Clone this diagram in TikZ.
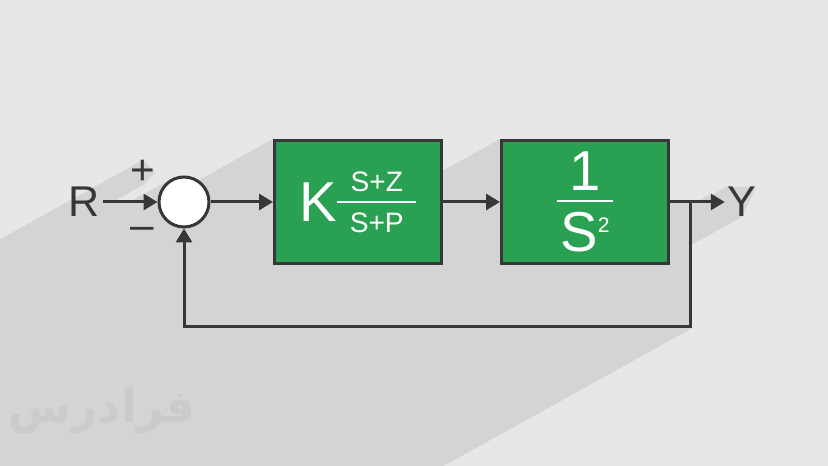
\documentclass[tikz,border=0pt]{standalone}
\usepackage{fontspec}
\setmainfont{Liberation Sans}
\newfontfamily\arabicfont[Script=Arabic]{DejaVu Sans}
\TeXXeTstate=1
\usepackage{tikz}
\usetikzlibrary{arrows.meta,positioning,calc,backgrounds}
\definecolor{bgc}{RGB}{230,231,233}
\definecolor{shd}{RGB}{212,212,212}
\definecolor{blkg}{RGB}{42,161,82}
\definecolor{wire}{RGB}{55,55,55}
\definecolor{wmark}{RGB}{203,203,203}
\newcommand{\frc}[3]{\vbox{\halign{\hskip#3\hfil##\hfil\hskip#3\cr#1\cr\noalign{\kern5.5pt\hrule height1.2pt\kern5.5pt}#2\cr}}}

\begin{document}
\begin{tikzpicture}[
  blk/.style={draw=wire,fill=blkg,line width=0.06cm,minimum width=3.34cm,minimum height=2.46cm,text=white,inner sep=0pt},
  sumc/.style={circle,draw=wire,fill=white,line width=0.06cm,minimum size=1cm,inner sep=0pt},
  sig/.style={inner sep=0pt,font=\fontsize{24.5}{24.5}\selectfont,text=wire},
  sgn/.style={inner sep=0pt,font=\fontsize{24}{24}\selectfont,text=wire},
  ar/.style={-{Triangle[length=2.8mm,width=3.2mm]},line width=0.06cm,draw=wire},
  shdw/.style={fill=shd}
]
\useasboundingbox (0,0) rectangle (16.56,9.32);
\node[sumc] (sum) at (3.68,5.28) {};
\node[blk,right=1.25cm of sum] (g1) {$\vcenter{\hbox{\fontsize{32}{32}\selectfont K}}\vcenter{\fontsize{16}{16}\selectfont\frc{S+Z}{S+P}{7pt}}$};
\node[blk,right=1.14cm of g1] (g2) {$\vcenter{\fontsize{32}{32}\selectfont\frc{1}{S\raisebox{11pt}{\fontsize{12}{12}\selectfont 2}}{2pt}}$};
\node[sig] (r) at (1.68,5.28) {R};
\node[sig] (y) at (14.83,5.28) {Y};
\node[sgn] (pl) at (2.86,5.87) {+};
\node[sgn] (mn) at (2.85,4.66) {–};
\coordinate (br) at (13.8,5.28);
\coordinate (lp) at (13.8,2.78);
\node[text=wmark,font=\fontsize{26}{26}\bfseries] (wm) at (2.04,1.1) {\arabicfont\beginR فرادرس\endR};
\draw[ar,shorten <=0.07cm] (r.east) -- (sum.west);
\draw[ar] (sum.east) -- (g1.west);
\draw[ar] (g1.east) -- (g2.west);
\draw[ar,shorten >=0.04cm] (g2.east) -- (y.west);
\draw[ar] (br) -- (lp) -| (sum.south);
% long shadow
\begin{scope}[on background layer]
  \fill[bgc] (0,0) rectangle (16.56,9.32);
  \clip (0,0) rectangle (16.56,9.32);
  \foreach \bx in {g1,g2}
    \fill[shdw] (\bx.north west) -- (\bx.north east) -- (\bx.south east) -- ++(209:20) -- ($(\bx.north west)+(209:20)$) -- cycle;
  \fill[shdw] ($(sum)+(119:0.53)$) -- ($(sum)+(299:0.53)$) -- ++(209:20) -- ($(sum)+(119:0.53)+(209:20)$) -- cycle;
  \fill[shdw] (pl.north) -- (pl.east) -- (pl.south) -- ++(209:20) -- ($(pl.north)+(209:20)$) -- cycle;
  \fill[shdw] (y.north west) -- (y.north east) -- (y.south) -- ++(209:20) -- ($(y.north west)+(209:20)$) -- cycle;
  \fill[shdw] (sum.center) -- ($(br)+(0.03,0.03)$) -- ($(lp)+(0.03,-0.03)$) -- ++(209:20) -- ($(sum.center)+(209:20)$) -- cycle;
  \fill[shdw] ($(r.east)+(0.07,0.03)$) -- ($(sum.west)+(0,0.03)$) -- ($(sum.west)+(0,-0.03)$) -- ++(209:20) -- ($(r.east)+(0.07,0.03)+(209:20)$) -- cycle;
  \fill[shdw] ($(y.west)+(-0.32,0.16)$) -- ($(y.west)+(-0.04,0)$) -- ++(209:20) -- ($(y.west)+(-0.32,0.16)+(209:20)$) -- cycle;
\end{scope}
\end{tikzpicture}
\end{document}
